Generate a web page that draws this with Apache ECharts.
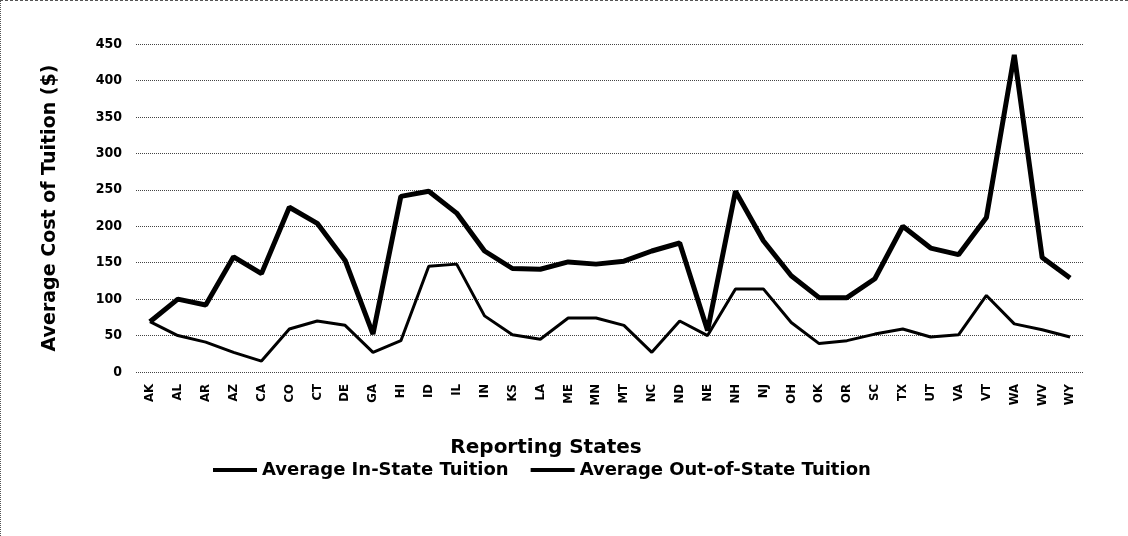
<!DOCTYPE html>
<html>
<head>
<meta charset="utf-8">
<script src="https://cdn.jsdelivr.net/npm/echarts@6/dist/echarts.min.js"></script>
<style>
  html, body { margin: 0; padding: 0; background: #fff; }
  #tuition-chart {
    width: 1128px;
    height: 536px;
    box-sizing: border-box;
    border-top: 1px dashed #555;
    border-left: 1px dotted #555;
  }
</style>
</head>
<body>
<div id="tuition-chart"></div>
<script>
const states = ['AK', 'AL', 'AR', 'AZ', 'CA', 'CO', 'CT', 'DE', 'GA', 'HI', 'ID', 'IL', 'IN', 'KS', 'LA', 'ME', 'MN',
  'MT', 'NC', 'ND', 'NE', 'NH', 'NJ', 'OH', 'OK', 'OR', 'SC', 'TX', 'UT', 'VA', 'VT', 'WA', 'WV', 'WY']
const inState = [69, 50, 41, 27, 15, 59, 70, 64, 27, 43, 145, 148, 77, 51, 45, 74, 74,
  64, 27, 70, 50, 114, 114, 68, 39, 43, 52, 59, 48, 51, 105, 66, 58, 48]
const outState = [69, 100, 92, 158, 135, 226, 204, 153, 52, 241, 248, 218, 166, 142, 141, 151, 148,
  152, 166, 177, 57, 248, 180, 132, 102, 102, 128, 200, 170, 161, 212, 435, 157, 129]
const seriesNames = ['Average In-State Tuition', 'Average Out-of-State Tuition']

const font = "'DejaVu Sans', sans-serif"
const narrow = "'DejaVu Sans Condensed', 'DejaVu Sans', sans-serif"
const myChart = echarts.init(document.getElementById('tuition-chart'), null, { renderer: 'canvas' })

myChart.setOption({
  animation: false,
  textStyle: { fontFamily: narrow },
  legend: [{
    bottom: 52,
    left: 207,
    itemGap: 22,
    itemWidth: 44,
    itemHeight: 4,
    icon: 'rect',
    textStyle: { fontSize: 18, fontWeight: 'bold', color: '#000', fontFamily: font },
    data: seriesNames
  }],
  grid: [{
    left: 135,
    right: 44,
    top: 43,
    bottom: 164
  }],
  xAxis: [{
    type: 'category',
    data: states,
    name: 'Reporting States',
    nameLocation: 'middle',
    nameGap: 66,
    nameTextStyle: {
      fontSize: 20,
      fontWeight: 'bold',
      color: '#000',
      fontFamily: font,
      padding: [0, 128, 0, 0]
    },
    axisLine: { show: false },
    axisTick: { show: false },
    axisLabel: {
      rotate: 90,
      margin: 12,
      fontSize: 13,
      fontWeight: 'bold',
      color: '#000',
      interval: 0
    }
  }],
  yAxis: [{
    type: 'value',
    min: 0,
    max: 450,
    interval: 50,
    name: 'Average Cost of Tuition ($)',
    nameLocation: 'middle',
    nameGap: 76,
    nameTextStyle: { fontSize: 19, fontWeight: 'bold', color: '#000', fontFamily: font },
    axisLine: { show: false },
    axisTick: { show: false },
    axisLabel: { fontSize: 14, fontWeight: 'bold', color: '#000', margin: 14 },
    splitLine: { lineStyle: { type: 'dotted', color: '#444', width: 1 } }
  }],
  series: [{
    name: seriesNames[0],
    type: 'line',
    data: inState,
    showSymbol: false,
    lineStyle: { color: '#000', width: 3 },
    itemStyle: { color: '#000' }
  }, {
    name: seriesNames[1],
    type: 'line',
    data: outState,
    showSymbol: false,
    lineStyle: { color: '#000', width: 5 },
    itemStyle: { color: '#000' }
  }]
})

window.addEventListener('resize', () => { myChart.resize() })
</script>
</body>
</html>
